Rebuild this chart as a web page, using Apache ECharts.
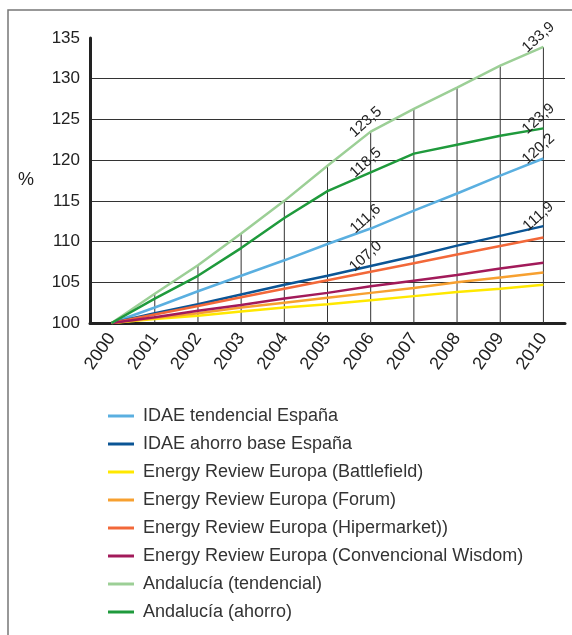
<!DOCTYPE html>
<html>
<head>
<meta charset="utf-8">
<script src="https://cdn.jsdelivr.net/npm/echarts@6/dist/echarts.min.js"></script>
<style>
  html, body { margin: 0; padding: 0; background: #fff; }
  #chart { width: 572px; height: 635px; }
</style>
</head>
<body>
<div id="chart"></div>
<script>
// datos
const years = ['2000', '2001', '2002', '2003', '2004', '2005', '2006', '2007', '2008', '2009', '2010'];

const idaeTendencial = [100, 101.9, 103.9, 105.8, 107.7, 109.7, 111.6, 113.8, 115.9, 118.1, 120.2];
const idaeAhorro = [100, 101.2, 102.3, 103.5, 104.7, 105.8, 107.0, 108.2, 109.5, 110.7, 111.9];
const erBattlefield = [100, 100.5, 100.9, 101.4, 101.9, 102.3, 102.8, 103.3, 103.8, 104.2, 104.7];
const erForum = [100, 100.6, 101.2, 101.9, 102.5, 103.1, 103.7, 104.3, 105.0, 105.6, 106.2];
const erHipermarket = [100, 101.05, 102.1, 103.15, 104.2, 105.25, 106.3, 107.35, 108.4, 109.45, 110.5];
const erWisdom = [100, 100.7, 101.5, 102.2, 103.0, 103.7, 104.5, 105.2, 105.9, 106.7, 107.4];
const andTendencial = [100, 103.6, 107.1, 111.0, 115.0, 119.3, 123.5, 126.3, 128.9, 131.6, 133.9];
const andAhorro = [100, 103.0, 105.8, 109.2, 112.9, 116.2, 118.5, 120.8, 121.9, 123.0, 123.9];

const yTicks = [100, 105, 110, 115, 120, 125, 130, 135];

const chartDom = document.getElementById('chart');
const myChart = echarts.init(chartDom);

// etiquetas rotadas en 2006 y 2010
const labelIdx = [6, 10];
function withLabels(values, show) {
    return values.map((v, i) => ({
        value: v,
        label: { show: show && labelIdx.includes(i) }
    }));
}

const labelStyle = {
    position: 'top',
    rotate: 42,
    distance: 4,
    fontSize: 15,
    color: '#222',
    fontFamily: 'Liberation Sans',
    formatter: p => Number(p.value).toFixed(1).replace('.', ',')
};

function lineSeries(name, values, color, width, labels) {
    return {
        name: name,
        type: 'line',
        data: withLabels(values, labels),
        symbol: 'circle',
        symbolSize: 0,
        showSymbol: true,
        lineStyle: { color: color, width: width },
        itemStyle: { color: color },
        label: labelStyle,
        z: 3
    };
}

const option = {
    animation: false,
    textStyle: { fontFamily: 'Liberation Sans' },
    graphic: [{
        type: 'polyline',
        shape: { points: [[8, 635], [8, 10], [572, 10]] },
        style: { stroke: '#777', lineWidth: 1.5, fill: null }
    }],
    grid: { left: 90, right: 7, top: 38, bottom: 312 },
    legend: {
        orient: 'vertical',
        left: 103,
        top: 402,
        itemWidth: 26,
        itemHeight: 3,
        itemGap: 10,
        icon: 'rect',
        textStyle: { fontSize: 18, color: '#333', padding: [0, 0, 0, 4] },
        data: [
            'IDAE tendencial España',
            'IDAE ahorro base España',
            'Energy Review Europa (Battlefield)',
            'Energy Review Europa (Forum)',
            'Energy Review Europa (Hipermarket))',
            'Energy Review Europa (Convencional Wisdom)',
            'Andalucía (tendencial)',
            'Andalucía (ahorro)'
        ]
    },
    xAxis: {
        type: 'category',
        data: years,
        boundaryGap: true,
        axisLine: { lineStyle: { color: '#222', width: 3 } },
        axisTick: { show: false },
        axisLabel: { rotate: 55, fontSize: 18, color: '#222', margin: 12, interval: 0 }
    },
    yAxis: {
        type: 'value',
        min: yTicks[0],
        max: yTicks[yTicks.length - 1],
        interval: 5,
        name: '%',
        nameLocation: 'middle',
        nameRotate: 0,
        nameGap: 56,
        nameTextStyle: { fontSize: 18, color: '#222', padding: [14, 0, 0, 0] },
        axisLine: { show: true, lineStyle: { color: '#222', width: 3 } },
        axisTick: { show: false },
        axisLabel: { fontSize: 17, color: '#222', margin: 10 },
        splitLine: { show: true, showMaxLine: false, lineStyle: { color: '#333', width: 1 } }
    },
    series: [
        {
            // líneas verticales hasta la curva superior
            name: 'guias',
            type: 'bar',
            data: andTendencial,
            barWidth: 1,
            silent: true,
            itemStyle: { color: '#333' },
            z: 2
        },
        lineSeries('IDAE tendencial España', idaeTendencial, '#5aafe0', 2.5, true),
        lineSeries('IDAE ahorro base España', idaeAhorro, '#0b5595', 2.5, true),
        lineSeries('Energy Review Europa (Battlefield)', erBattlefield, '#ffe800', 2.5, false),
        lineSeries('Energy Review Europa (Forum)', erForum, '#f7a030', 2.5, false),
        lineSeries('Energy Review Europa (Hipermarket))', erHipermarket, '#f26839', 2.5, false),
        lineSeries('Energy Review Europa (Convencional Wisdom)', erWisdom, '#a21a5a', 2.5, false),
        lineSeries('Andalucía (tendencial)', andTendencial, '#9ccf96', 2.5, true),
        lineSeries('Andalucía (ahorro)', andAhorro, '#1f9a3c', 2.5, true)
    ]
};

myChart.setOption(option);
</script>
</body>
</html>
